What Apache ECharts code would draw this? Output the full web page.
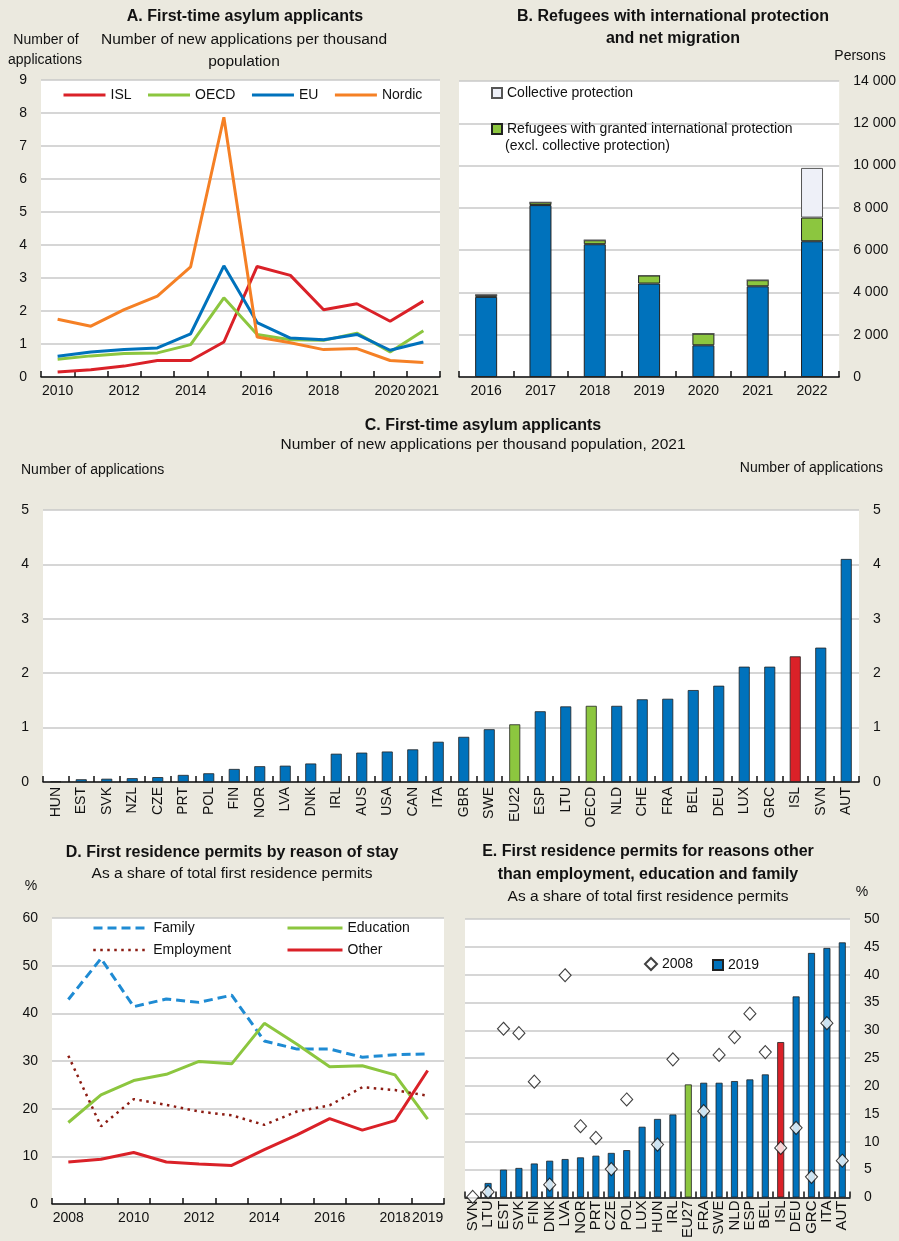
<!DOCTYPE html>
<html><head><meta charset="utf-8">
<script src="https://cdn.jsdelivr.net/npm/echarts@6/dist/echarts.min.js"></script>
<style>html,body{margin:0;padding:0;background:#EBE9DF;}#c{width:899px;height:1241px;}</style>
</head><body><div id="c"></div>
<script>
// ---- Panel A ----
const yearsA = ['2010','2011','2012','2013','2014','2015','2016','2017','2018','2019','2020','2021'];
const islA = [0.15,0.22,0.33,0.5,0.5,1.06,3.35,3.08,2.04,2.22,1.69,2.3];
const oecdA = [0.54,0.64,0.71,0.73,0.98,2.4,1.29,1.13,1.11,1.33,0.76,1.4];
const euA = [0.63,0.76,0.83,0.88,1.31,3.37,1.65,1.18,1.13,1.29,0.81,1.06];
const nordicA = [1.75,1.54,2.04,2.45,3.34,7.87,1.21,1.04,0.83,0.86,0.5,0.44];
// ---- Panel B ----
const yearsB = ['2016','2017','2018','2019','2020','2021','2022'];
const netMigrationB = [3790,8130,6280,4420,1500,4290,6420];
const refugeesB = [90,130,190,380,550,290,1120];
const collectiveB = [0,0,0,0,0,0,2350];
// ---- Panel C ----
const countriesC = ['HUN','EST','SVK','NZL','CZE','PRT','POL','FIN','NOR','LVA','DNK','IRL','AUS','USA','CAN','ITA','GBR','SWE','EU22','ESP','LTU','OECD','NLD','CHE','FRA','BEL','DEU','LUX','GRC','ISL','SVN','AUT'];
const valuesC = [0.01,0.05,0.06,0.07,0.09,0.13,0.16,0.24,0.29,0.3,0.34,0.52,0.54,0.56,0.6,0.74,0.83,0.97,1.06,1.3,1.39,1.4,1.4,1.52,1.53,1.69,1.77,2.12,2.12,2.31,2.47,4.1];
// ---- Panel D ----
const yearsD = ['2008','2009','2010','2011','2012','2013','2014','2015','2016','2017','2018','2019'];
const familyD = [42.9,51.5,41.4,43.0,42.3,43.8,34.2,32.5,32.5,30.8,31.3,31.5];
const educationD = [17.1,22.9,25.9,27.2,29.9,29.4,37.9,33.5,28.8,29.0,27.1,17.8];
const employmentD = [31.1,16.3,22.0,20.8,19.4,18.6,16.6,19.4,20.7,24.5,23.9,22.7];
const otherD = [8.8,9.4,10.8,8.8,8.4,8.1,11.4,14.5,17.9,15.5,17.5,28.0];
// ---- Panel E ----
const countriesE = ['SVN','LTU','EST','SVK','FIN','DNK','LVA','NOR','PRT','CZE','POL','LUX','HUN','IRL','EU27','FRA','SWE','NLD','ESP','BEL','ISL','DEU','GRC','ITA','AUT'];
const share2019E = [0,2.6,5.0,5.3,6.1,6.6,6.9,7.2,7.5,8.0,8.5,12.7,14.1,14.9,20.3,20.6,20.6,20.9,21.2,22.1,27.9,36.1,43.9,44.8,45.8];
const share2008E = [0.1,1.0,30.3,29.5,20.8,2.3,39.9,12.8,10.7,5.1,17.6,null,9.5,24.8,null,15.5,25.6,28.8,33.0,26.1,8.9,12.5,3.7,31.3,6.6];

const FONT = '"Liberation Sans Narrow","Arial Narrow","Liberation Sans",sans-serif';
const BLUE='#0072BC', GREEN='#8CC63F', RED='#DA2128', ORANGE='#F58025', FAMILY='#1F8BD3', EMP='#8C1C13';
const GRIDC='#C9C9C9';
const FS = 14;

const chart = echarts.init(document.getElementById('c'), null, {renderer:'canvas'});

function catAxis(gi, data, label){
  return {
    type:'category', gridIndex:gi, data:data, boundaryGap:true,
    axisLine:{show:true, lineStyle:{color:'#111', width:1.5}},
    axisTick:{show:true, inside:true, length:6, interval:0, lineStyle:{color:'#111', width:1.5}},
    axisLabel:Object.assign({color:'#111', fontFamily:FONT, fontSize:FS, margin:7, showMinLabel:true, showMaxLabel:true}, label||{}),
    splitLine:{show:false}
  };
}
function valAxis(gi, min, max, interval, pos, extra){
  return Object.assign({
    type:'value', gridIndex:gi, min:min, max:max, interval:interval, position:pos,
    axisLine:{show:false}, axisTick:{show:false},
    axisLabel:{color:'#111', fontFamily:FONT, fontSize:FS, margin:14},
    splitLine:{show:true, lineStyle:{color:GRIDC, width:1.5}}
  }, extra||{});
}
const legText = {color:'#111', fontFamily:FONT, fontSize:FS};
function lineLegend(names, left, top, w, gap, lw){
  return {data:names, left:left, top:top, itemWidth:w, itemHeight:14, itemGap:gap||10, textStyle:legText, padding:0,
    selectedMode:false, itemStyle:{opacity:0}, lineStyle:{width:lw||3}};
}
function txt(x,y,text,opts){
  opts = opts||{};
  return {type:'text', x:x, y:y, silent:true, style:{text:text, font:(opts.bold?'bold ':'')+(opts.size||FS)+'px '+FONT,
    fill:'#111', textAlign:opts.align||'center', textVerticalAlign:'middle'}};
}
const thousands = v => String(v).replace(/\B(?=(\d{3})+(?!\d))/g,' ');
const everyOtherPlusLast = n => (i => i%2===0 || i===n-1);

const option = {
  backgroundColor:'#EBE9DF',
  animation:false,
  grid:[
    {left:41, top:80, width:399, height:297, show:true, backgroundColor:'#fff', borderWidth:0},
    {left:459, top:81, width:383, height:296, show:true, backgroundColor:'#fff', borderWidth:0},
    {left:43, top:510, width:816, height:272, show:true, backgroundColor:'#fff', borderWidth:0},
    {left:52, top:918, width:392, height:286, show:true, backgroundColor:'#fff', borderWidth:0},
    {left:465, top:919, width:385, height:288, show:true, backgroundColor:'#fff', borderWidth:0}
  ],
  xAxis:[
    catAxis(0, yearsA, {interval:everyOtherPlusLast(yearsA.length)}),
    catAxis(1, yearsB),
    catAxis(2, countriesC, {fontSize:14, margin:5, rotate:90, interval:0}),
    catAxis(3, yearsD, {interval:everyOtherPlusLast(yearsD.length)}),
    catAxis(4, countriesE, {fontSize:15, margin:3, rotate:90, interval:0})
  ],
  yAxis:[
    valAxis(0, 0, 9, 1, 'left'),
    valAxis(1, 0, 14000, 2000, 'right', {axisLabel:{color:'#111', fontFamily:FONT, fontSize:FS, margin:14, formatter:thousands}}),
    valAxis(2, 0, 5, 1, 'left'),
    valAxis(2, 0, 5, 1, 'right', {splitLine:{show:false}}),
    valAxis(3, 0, 60, 10, 'left'),
    valAxis(4, 0, 50, 5, 'right')
  ],
  legend:[
    lineLegend(['ISL','OECD','EU','Nordic'], 62, 88, 42, 15),
    {data:['Collective protection'], left:491, top:86, icon:'rect', itemWidth:10, itemHeight:10, textStyle:legText, padding:0, selectedMode:false},
    {data:['Refugees with granted international protection'], left:491, top:122, icon:'rect', itemWidth:10, itemHeight:10, textStyle:legText, padding:0, selectedMode:false},
    lineLegend(['Family'], 92, 921, 55),
    lineLegend(['Education'], 286, 921, 55),
    lineLegend(['Employment'], 92, 943, 55, 10, 2.5),
    lineLegend(['Other'], 286, 943, 55),
    {data:['2008'], left:644, top:957, itemWidth:12, itemHeight:12, textStyle:legText, padding:0, selectedMode:false},
    {data:['2019'], left:712, top:958, itemWidth:10, itemHeight:10, icon:'rect', textStyle:legText, padding:0, selectedMode:false}
  ],
  series:[
    {name:'ISL', type:'line', xAxisIndex:0, yAxisIndex:0, data:islA, symbol:'none', lineStyle:{color:RED, width:3}, itemStyle:{color:RED}},
    {name:'OECD', type:'line', xAxisIndex:0, yAxisIndex:0, data:oecdA, symbol:'none', lineStyle:{color:GREEN, width:3}, itemStyle:{color:GREEN}},
    {name:'EU', type:'line', xAxisIndex:0, yAxisIndex:0, data:euA, symbol:'none', lineStyle:{color:BLUE, width:3}, itemStyle:{color:BLUE}},
    {name:'Nordic', type:'line', xAxisIndex:0, yAxisIndex:0, data:nordicA, symbol:'none', lineStyle:{color:ORANGE, width:3}, itemStyle:{color:ORANGE}},

    {name:'Net migration', type:'bar', stack:'b', xAxisIndex:1, yAxisIndex:1, data:netMigrationB, barWidth:22, itemStyle:{color:BLUE, borderColor:'#222', borderWidth:1}},
    {name:'Refugees with granted international protection', type:'bar', stack:'b', xAxisIndex:1, yAxisIndex:1, data:refugeesB, barWidth:22, itemStyle:{color:GREEN, borderColor:'#222', borderWidth:1}},
    {name:'Collective protection', type:'bar', stack:'b', xAxisIndex:1, yAxisIndex:1, data:collectiveB, barWidth:22, itemStyle:{color:'#EEF0F8', borderColor:'#555', borderWidth:1}},

    {name:'Applications', type:'bar', xAxisIndex:2, yAxisIndex:2, barWidth:11,
      data:valuesC.map((v,i)=>({value:v, itemStyle:{color: countriesC[i]==='ISL'?RED:(countriesC[i]==='EU22'||countriesC[i]==='OECD'?GREEN:BLUE)}})),
      itemStyle:{color:BLUE, borderColor:'#222', borderWidth:0.8}},

    {name:'Family', type:'line', xAxisIndex:3, yAxisIndex:4, data:familyD, symbol:'none', lineStyle:{color:FAMILY, width:3, type:[9,5]}, itemStyle:{color:FAMILY}},
    {name:'Education', type:'line', xAxisIndex:3, yAxisIndex:4, data:educationD, symbol:'none', lineStyle:{color:GREEN, width:3}, itemStyle:{color:GREEN}},
    {name:'Employment', type:'line', xAxisIndex:3, yAxisIndex:4, data:employmentD, symbol:'none', lineStyle:{color:EMP, width:2.5, type:[2.5,4.5]}, itemStyle:{color:EMP}},
    {name:'Other', type:'line', xAxisIndex:3, yAxisIndex:4, data:otherD, symbol:'none', lineStyle:{color:RED, width:3}, itemStyle:{color:RED}},

    {name:'2019', type:'bar', xAxisIndex:4, yAxisIndex:5, barWidth:7,
      data:share2019E.map((v,i)=>({value:v, itemStyle:{color: countriesE[i]==='ISL'?RED:(countriesE[i]==='EU27'?GREEN:BLUE)}})),
      itemStyle:{color:BLUE, borderColor:'#222', borderWidth:0.8}},
    {name:'2008', type:'scatter', xAxisIndex:4, yAxisIndex:5, data:share2008E, symbol:'diamond', symbolSize:[12,13], z:5,
      itemStyle:{color:'#fff', borderColor:'#111', borderWidth:1.1}}
  ],
  graphic:[
    txt(245,17,'A. First-time asylum applicants',{bold:true,size:16}),
    txt(244,40,'Number of new applications per thousand',{size:15.5}),
    txt(244,62,'population',{size:15.5}),
    txt(46,40,'Number of'),
    txt(45,60,'applications'),

    txt(673,17,'B. Refugees with international protection',{bold:true,size:16}),
    txt(673,39,'and net migration',{bold:true,size:16}),
    txt(860,56,'Persons'),
    txt(505,146,'(excl. collective protection)',{align:'left'}),

    txt(483,426,'C. First-time asylum applicants',{bold:true,size:16}),
    txt(483,445,'Number of new applications per thousand population, 2021',{size:15.5}),
    txt(21,470,'Number of applications',{align:'left'}),
    txt(883,468,'Number of applications',{align:'right'}),

    txt(232,853,'D. First residence permits by reason of stay',{bold:true,size:16}),
    txt(232,874,'As a share of total first residence permits',{size:15.5}),
    txt(31,886,'%'),

    txt(648,852,'E. First residence permits for reasons other',{bold:true,size:16}),
    txt(648,875,'than employment, education and family',{bold:true,size:16}),
    txt(648,897,'As a share of total first residence permits',{size:15.5}),
    txt(862,892,'%')
  ]
};
chart.setOption(option);
</script>
</body></html>
